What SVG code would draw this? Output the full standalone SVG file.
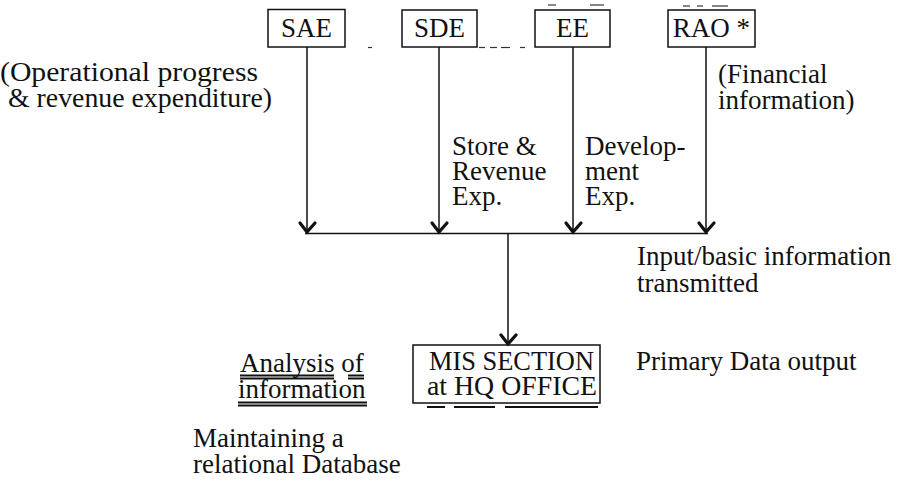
<svg xmlns="http://www.w3.org/2000/svg" width="898" height="484" viewBox="0 0 898 484" font-family="'Liberation Serif', 'Times New Roman', Times, serif">
  <style>
    text { font-family: 'Liberation Serif', 'Times New Roman', Times, serif; font-size: 27px; fill: #111; }
    .box { fill: #fff; stroke: #111; stroke-width: 1.5; }
    .line { stroke: #111; stroke-width: 1.5; fill: none; }
    .head { stroke: #111; stroke-width: 3.2; fill: none; stroke-linecap: round; stroke-linejoin: miter; }
    .ul { stroke: #111; stroke-width: 2; fill: none; }
    .faint { stroke: #333; stroke-width: 1.2; fill: none; }
  </style>
  <rect width="898" height="484" fill="#fff"/>

  <!-- source offices -->
  <g id="node-sae">
    <rect class="box" x="268" y="9.5" width="77" height="37.5"/>
    <text x="306.5" y="37" text-anchor="middle">SAE</text>
  </g>
  <g id="node-sde">
    <rect class="box" x="402" y="10" width="75" height="37"/>
    <text x="439.5" y="37" text-anchor="middle">SDE</text>
  </g>
  <g id="node-ee">
    <rect class="box" x="535" y="10" width="75" height="37"/>
    <text x="572.5" y="37" text-anchor="middle">EE</text>
  </g>
  <g id="node-rao">
    <rect class="box" x="668" y="10" width="87" height="37"/>
    <text x="711.5" y="37" text-anchor="middle">RAO *</text>
  </g>

  <!-- central MIS section -->
  <g id="node-mis">
    <rect class="box" x="413" y="345" width="187" height="58"/>
    <text x="429" y="370" textLength="165" lengthAdjust="spacingAndGlyphs">MIS SECTION</text>
    <text x="427" y="395" textLength="170" lengthAdjust="spacingAndGlyphs">at HQ OFFICE</text>
    <line class="ul" x1="427" y1="407" x2="445" y2="407"/>
    <line class="ul" x1="454" y1="407" x2="495" y2="407"/>
    <line class="ul" x1="505" y1="407" x2="598" y2="407"/>
  </g>

  <!-- connectors -->
  <g id="connectors">
    <!-- broken ruling along the box bottoms and tops -->
    <line class="faint" x1="368" y1="47.5" x2="372" y2="47.5"/>
    <line class="faint" x1="479" y1="47.5" x2="485" y2="47.5"/>
    <line class="faint" x1="490" y1="47.5" x2="497" y2="47.5"/>
    <line class="faint" x1="501" y1="47.5" x2="510" y2="47.5"/>
    <line class="faint" x1="520" y1="47.5" x2="525" y2="47.5"/>
    <line class="faint" x1="548" y1="5" x2="556" y2="5"/>
    <line class="faint" x1="590" y1="5" x2="604" y2="5"/>
    <line class="faint" x1="683" y1="6" x2="690" y2="6"/>
    <line class="faint" x1="697" y1="6" x2="703" y2="6"/>
    <line class="faint" x1="712" y1="6" x2="728" y2="6"/>

    <line class="line" x1="307" y1="47" x2="307" y2="232"/>
    <line class="line" x1="439" y1="47" x2="439" y2="232"/>
    <line class="line" x1="573" y1="47" x2="573" y2="232"/>
    <line class="line" x1="706" y1="47" x2="706" y2="232"/>
    <path class="head" d="M300 223 L307 232 L315 223"/>
    <path class="head" d="M432 223 L439 232 L447 223"/>
    <path class="head" d="M566 223 L573 232 L581 223"/>
    <path class="head" d="M699 223 L706 232 L714 223"/>

    <line class="line" x1="305" y1="233.5" x2="708" y2="233.5"/>
    <line class="line" x1="508" y1="233.5" x2="508" y2="344"/>
    <path class="head" d="M501 335 L508 344 L516 335"/>
  </g>

  <!-- annotations -->
  <g id="labels">
    <text x="0" y="81" textLength="258" lengthAdjust="spacingAndGlyphs">(Operational progress</text>
    <text x="8" y="107" textLength="264" lengthAdjust="spacingAndGlyphs">&amp; revenue expenditure)</text>

    <text x="452" y="155">Store &amp;</text>
    <text x="452" y="180">Revenue</text>
    <text x="452" y="205">Exp.</text>

    <text x="585" y="155">Develop-</text>
    <text x="585" y="180">ment</text>
    <text x="585" y="205">Exp.</text>

    <text x="718" y="83">(Financial</text>
    <text x="718" y="109">information)</text>

    <text x="637" y="265">Input/basic information</text>
    <text x="637" y="292">transmitted</text>

    <text x="636" y="370">Primary Data output</text>

    <text x="240" y="372">Analysis of</text>
    <line class="ul" x1="240" y1="375.5" x2="334" y2="375.5"/>
    <line class="ul" x1="240" y1="378.5" x2="334" y2="378.5" stroke-width="1.2"/>
    <line class="ul" x1="348" y1="375.5" x2="364" y2="375.5"/>
    <line class="ul" x1="348" y1="378.5" x2="364" y2="378.5" stroke-width="1.2"/>
    <text x="238" y="398">information</text>
    <line class="ul" x1="238" y1="402.5" x2="367" y2="402.5"/>
    <line class="ul" x1="238" y1="405.5" x2="367" y2="405.5" stroke-width="1.2"/>

    <text x="193" y="447">Maintaining a</text>
    <text x="193" y="473">relational Database</text>
  </g>
</svg>
